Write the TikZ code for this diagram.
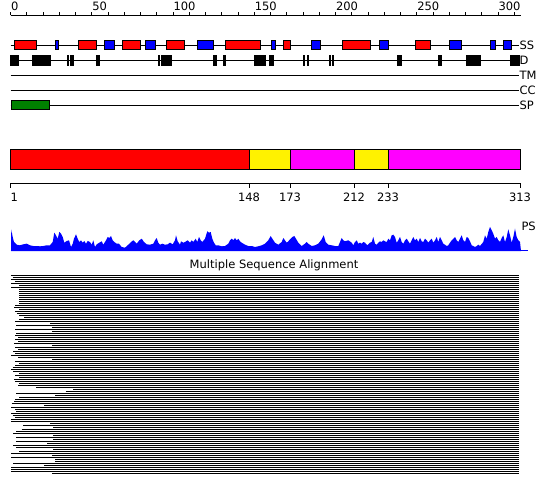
\documentclass[tikz,border=0pt]{standalone}
\usepackage{fontspec}
\setmainfont{DejaVu Sans}
\definecolor{spgreen}{RGB}{0,128,0}
\definecolor{dommagenta}{RGB}{255,0,255}
\begin{document}
\begin{tikzpicture}
  [x=1pt, y=-1pt, line width=1pt,
    lbl/.style={font=\fontsize{11.5}{13}\selectfont, inner sep=0pt},
    helix/.style={draw=black, fill=red},
    strand/.style={draw=black, fill=blue},
    disorder/.style={fill=black},
    dombox/.style={draw=black},
    msaline/.style={line width=1pt},
  ]
  \useasboundingbox[fill=white] (0,0) rectangle (550,495);

  % Ruler
  \draw (10.5,15.5) -- (521,15.5);
  \foreach \n in {0,10,...,310}
    \draw (10.5+1.625*\n,15.5) -- ++(0,-3);
  \foreach \n [count=\i] in {0,50,...,300}
    \node[lbl, anchor=south west] (r\i) at (10.5+1.625*\n,11) {\n};

  % Tracks
  \draw (10.5,45.5) -- (519,45.5) node[lbl, anchor=west] (ss) {SS};
  \draw (10.5,60.5) -- (519,60.5) node[lbl, anchor=west] (d) {D};
  \draw (10.5,75.5) -- (519,75.5) node[lbl, anchor=west] (tm) {TM};
  \draw (10.5,90.5) -- (519,90.5) node[lbl, anchor=west] (cc) {CC};
  \draw (10.5,105.5) -- (519,105.5) node[lbl, anchor=west] (sp) {SP};

  \foreach \a/\b in {14.3/36.3, 78.3/96.7, 122.3/140.3, 166.3/184.3,
      225.3/260.3, 283.3/290.7, 342.7/370.7, 415.3/430.7}
    \draw[helix] (\a,41) rectangle (\b,50);
  \foreach \a/\b in {55.3/58.7, 104.3/114.7, 145.3/155.7, 197.3/213.7,
      271.7/275.7, 311/320, 379.3/388.7, 449.3/461.7, 490.7/495.7, 503/511.7}
    \draw[strand] (\a,41) rectangle (\b,50);
  \foreach \a/\b in {10/19, 32/50.7, 66.7/68.7, 70/73.7, 96/100, 158/159.7,
      161/172, 213/217, 222.7/226, 254/266, 269/274, 303.3/305, 306.7/309,
      329/331, 332/334.3, 397/401.7, 437.7/441.7, 466/481, 510/520}
    \fill[disorder] (\a,55) rectangle (\b,66);
  \draw[fill=spgreen] (11,100.5) rectangle (49,109.5);

  % Domains
  \draw[dombox, fill=red] (10,150) rectangle (249,170);
  \draw[dombox, fill=yellow] (249,150) rectangle (290,170);
  \draw[dombox, fill=dommagenta] (290,150) rectangle (354,170);
  \draw[dombox, fill=yellow] (354,150) rectangle (388,170);
  \draw[dombox, fill=dommagenta] (388,150) rectangle (520,170);

  \draw (10,183.5) -- (520,183.5);
  \foreach \x/\t in {10/1, 249/148, 290/173, 354/212, 388/233, 520/313}
    \draw (\x,183.5) -- (\x,188.5);
  \node[lbl, anchor=west] (p1) at (10,197) {1};
  \foreach \x/\t in {249/148, 290/173, 354/212, 388/233, 520/313}
    \node[lbl] (p\t) at (\x,197) {\t};

  % Profile
  \fill[blue] plot coordinates {(11,251) (11.3,229.3) (12.7,237) (14,242)
    (16.7,244.7) (20,245.3) (23.3,244.3) (26.7,243.7) (30,245.3) (33.3,246)
    (36.7,246) (40,246.3) (43.3,246) (46.7,245.3) (50,245.3) (52.7,242)
    (54.3,232.7) (56,235.3) (57.7,238.7) (59.3,232) (61,233.7) (62.7,237)
    (64.3,242.7) (66.7,241) (69,240.3) (71,247) (72.7,243.7) (74,238.7)
    (76,234.3) (77.7,238.7) (79.3,242) (81,240.3) (82.7,242.7) (84.3,241)
    (86,243.7) (87.7,241) (90,242) (91.7,244.7) (93.3,240.3) (95,247)
    (96.7,244.3) (99.3,242.7) (101.7,241.3) (103.3,244.7) (106,240.3)
    (107.7,237) (109.3,238) (111,236) (112.7,240.3) (114.3,242) (116.7,243.7)
    (119,243.7) (121.7,247) (125,247.7) (128.3,244.7) (131,242) (133.3,240.3)
    (135,242) (136.7,243.7) (139.3,240.3) (141.7,238.7) (144,242)
    (146.7,244.3) (150,244.7) (153.3,243.7) (155,240.3) (156.7,238)
    (158.3,242.7) (160,244.7) (162.3,243.7) (165,244.7) (167.7,244.3)
    (170,242.7) (172.7,244.3) (175,240.3) (176,235.3) (177.7,241.3)
    (180,244.7) (181,241.3) (183.3,242.7) (185,242) (187.7,240.3) (190,242.7)
    (191.7,240.3) (193.3,242) (195.7,238.7) (197.3,242) (199,237)
    (200.7,240.3) (202.3,242) (205,238.7) (207.3,231.3) (209,232.7)
    (210.7,232) (212.3,238.7) (214,242.7) (215.7,245.3) (218.3,245.3)
    (221.7,246.3) (225,246) (228.3,243.7) (230,240.3) (231.7,238.7)
    (233.3,240.3) (235,238) (236.7,240.3) (238.3,238.7) (240,241.3)
    (241.7,242.7) (245,244.7) (248.3,246) (251.7,246) (255,247) (258.3,246.3)
    (261.7,245.3) (265,243.7) (268.3,240.3) (270.7,236) (272.3,238.7)
    (275,242.7) (278.3,244.7) (281.7,242) (283.3,238) (285,240.3)
    (286.7,242.7) (288.3,241.3) (290,239.3) (292.3,237) (294.3,236) (296,238.7)
    (298.3,242.7) (301.7,246) (305,243.7) (306.7,242) (308.3,243.7)
    (311.7,246) (315,245.3) (318.3,243.7) (321.7,239.3) (323.7,235.3)
    (325.7,242) (328.3,244.7) (331.7,245.3) (335,246) (338.3,246) (341.7,238)
    (343.3,240.3) (345,241.3) (348.3,240.3) (351.7,242.7) (353.3,245.3)
    (355,242) (356.7,240.3) (358.3,243.7) (360,242.7) (361.7,243.7) (363.3,242)
    (365,242.7) (367.3,245.3) (370,242.7) (371.7,242) (373.3,237) (375,243.7)
    (376.7,244.7) (378.3,242.7) (380,241.3) (381.7,242) (383.3,240.3)
    (385,241.3) (386.7,242) (388.3,238.7) (390,240.3) (391.7,235.3)
    (393.3,234.7) (395,237) (396.7,242.7) (398.3,240.3) (400,237) (401.7,242)
    (403.3,243.7) (405,240.3) (406.7,238.7) (408.3,241.3) (410,243.7)
    (411.7,240.3) (413.3,237) (415,240.3) (416.7,238.7) (418.3,242) (420,238)
    (421.7,241.3) (423.3,242) (425,238.7) (426.7,240.3) (428.3,242.7)
    (430,240.3) (431.7,238.7) (433.3,242.7) (435,240.3) (436.7,237) (438.3,242)
    (440,237) (441.7,240.3) (443.3,243.7) (445,244.7) (446.7,246)
    (448.3,245.3) (450,242.7) (451.7,240.3) (453.3,238.7) (455,237)
    (456.7,240.3) (458.3,242) (460,238.7) (461.7,235.3) (463.3,240.3)
    (465,242) (466.7,237) (468.3,238) (470,241.3) (471.7,245.3) (473.3,246)
    (475,247) (476.7,246) (478.3,244.7) (480,246) (483.3,242) (485,235.3)
    (486.7,238.7) (488.3,232) (490,227) (491.7,230.3) (493.3,233.7)
    (495,238.7) (496.7,237) (498.3,240.3) (500,242) (501.7,238) (503.3,235.3)
    (505,242) (506.7,237) (508.3,229.3) (510,235.3) (511.7,242.7) (513.3,237)
    (515,228.7) (516.7,237) (518.3,240.3) (520,242) (521,251)} -- cycle;
  \draw[blue] (10.5,250.5) -- (528,250.5);
  \node[lbl, anchor=west] (ps) at (521,226) {PS};

  % Alignment
  \node[lbl] (msa) at (274,265) {Multiple Sequence Alignment};
  \foreach \s [count=\k from 0] in {11, 12.7, 11, 15, 11, 19, 11, 19, 19, 19,
      19, 19, 19, 19, 19, 15, 14, 19, 15, 16.7,
      19, 24, 19, 15, 50, 16, 52.3, 15, 52.3, 16,
      15, 18.3, 15, 18.3, 14, 52.3, 15, 18.3, 13.3, 15,
      11, 18.3, 52.3, 15, 19, 15, 12.7, 11, 13.3, 19,
      15, 19, 14, 15, 19, 18.3, 36, 73.3, 65.7, 16,
      55, 19, 15, 14, 11.7, 44, 11, 15, 16, 11,
      12.7, 15, 11, 11, 50, 23.3, 53.3, 21.7, 16, 13.3,
      53.3, 16, 53.3, 16, 47.3, 13.3, 16, 53.3, 19, 11,
      52.3, 11, 55, 55, 13.3, 44, 11, 11, 11, 52.3}
    \draw[msaline] (\s,275.5+2*\k) -- (519,275.5+2*\k);
\end{tikzpicture}
\end{document}
